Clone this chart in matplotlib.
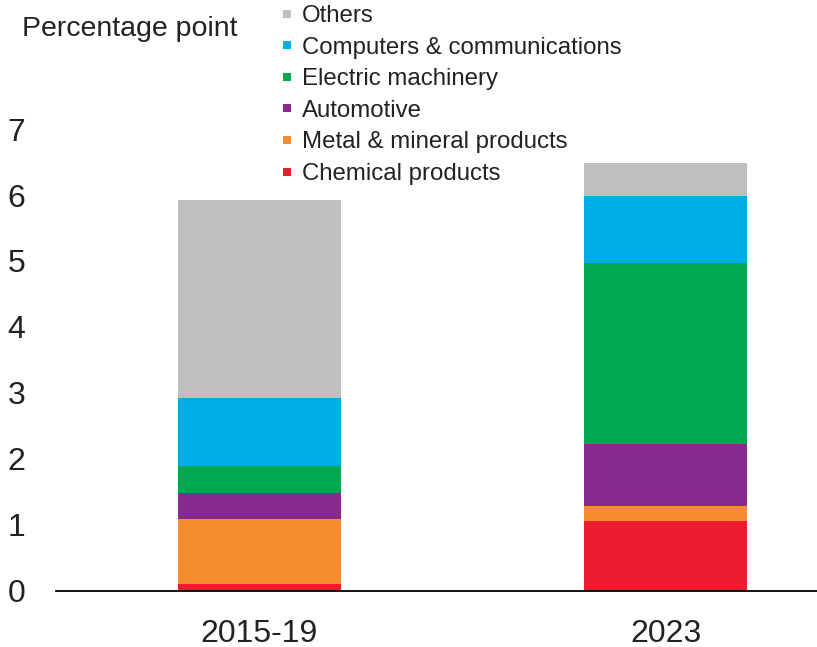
import numpy as np
import matplotlib.pyplot as plt
from matplotlib.lines import Line2D

plt.rcParams['font.family'] = ['Liberation Sans', 'DejaVu Sans']

periods = ['2015-19', '2023']
sectors = ['Chemical products', 'Metal & mineral products', 'Automotive',
           'Electric machinery', 'Computers & communications', 'Others']
chemical = [0.11, 1.06]
metal = [0.98, 0.23]
automotive = [0.39, 0.94]
electric = [0.42, 2.74]
computers = [1.02, 1.02]
others = [3.00, 0.50]

colors = ['#ED1C2E', '#F58D2E', '#862A8D', '#00A84F', '#00AEE6', '#BFBFBF']
series = [chemical, metal, automotive, electric, computers, others]

W, H = 817, 647
fig = plt.figure(figsize=(W / 100, H / 100), dpi=100)
ax = fig.add_axes([56 / W, 1 - 591 / H, (W - 56) / W, (591 - 129) / H])

x = np.arange(len(periods))
bottom = np.zeros(len(periods))
for vals, col in zip(series, colors):
    ax.bar(x, vals, width=0.40, bottom=bottom, color=col, linewidth=0)
    bottom += np.array(vals)

ax.set_xlim(-0.501, 1.373)
ax.set_ylim(0, 7)
ax.set_yticks(range(8))
ax.set_xticks(x)
ax.set_xticklabels(periods)
ax.tick_params(axis='x', length=0, pad=20, labelsize=23, colors='#222222')
ax.tick_params(axis='y', length=0, pad=22, labelsize=23, colors='#222222')
ax.spines[['top', 'right', 'left']].set_visible(False)
ax.spines['bottom'].set_linewidth(1.3)
ax.spines['bottom'].set_color('black')

fig.text(22 / W, 1 - 29 / H, 'Percentage point', fontsize=20.5,
         va='center', ha='left', color='#222222')

handles = [Line2D([], [], marker='s', linestyle='none', markersize=6,
                  markerfacecolor=c, markeredgewidth=0) for c in colors]
leg = fig.legend(handles[::-1], sectors[::-1], loc='upper left',
                 bbox_to_anchor=(280 / W, 1 - 5 / H), frameon=False,
                 fontsize=17.3, handlelength=0.6, handletextpad=0.3,
                 labelspacing=0.4, borderpad=0, borderaxespad=0)
for t in leg.get_texts():
    t.set_color('#222222')

fig.savefig('out.png', dpi=100)
